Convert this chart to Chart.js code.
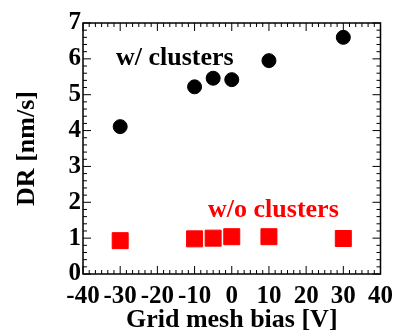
<!DOCTYPE html>
<html><head><meta charset="utf-8">
<script src="https://cdn.jsdelivr.net/npm/chart.js@4/dist/chart.umd.min.js"></script>
<style>html,body{margin:0;padding:0;background:#fff}#wrap{width:401px;height:336px}</style>
</head><body><div id="wrap"><canvas id="c" width="401" height="336"></canvas></div>
<script>
// ---- data ----
const biasWith = [-30, -10, -5, 0, 10, 30];
const drWith = [4.11, 5.22, 5.46, 5.42, 5.95, 6.6];
const biasWithout = [-30, -10, -5, 0, 10, 30];
const drWithout = [0.93, 0.98, 1.0, 1.04, 1.04, 0.99];
const xTicks = [-40, -30, -20, -10, 0, 10, 20, 30, 40];
const yTicks = [0, 1, 2, 3, 4, 5, 6, 7];
const seriesLabels = ['w/ clusters', 'w/o clusters'];
const seriesColors = ['#000000', '#ff0000'];
const xTitle = 'Grid mesh bias [V]';
const yTitle = 'DR [nm/s]';
// in-plot label anchors (data units)
const labelX = [-15.3, 11.2];
const labelY = [6.02, 1.78];

const FONT = "'Liberation Serif', 'Times New Roman', serif";
const tickFont = {family: FONT, size: 25, weight: 'bold'};
const titleFont = {family: FONT, size: 26, weight: 'bold'};

const framePlugin = {
  id: 'frame',
  beforeDatasetsDraw(chart) {
    const {ctx, chartArea: a, scales: {x, y}} = chart;
    ctx.save();
    ctx.strokeStyle = '#000';
    ctx.lineWidth = 1.5;
    ctx.strokeRect(a.left, a.top, a.right - a.left, a.bottom - a.top);
    ctx.lineWidth = 1;
    ctx.beginPath();
    for (let i = 0; i < xTicks.length; i++) {
      const v = xTicks[i];
      const px = x.getPixelForValue(v);
      ctx.moveTo(px, a.bottom); ctx.lineTo(px, a.bottom - 8);
      ctx.moveTo(px, a.top); ctx.lineTo(px, a.top + 8);
      if (i < xTicks.length - 1) {
        const step = (xTicks[i + 1] - v) / 6;
        for (let k = 1; k < 6; k++) {
          const m = x.getPixelForValue(v + k * step);
          ctx.moveTo(m, a.bottom); ctx.lineTo(m, a.bottom - 4);
          ctx.moveTo(m, a.top); ctx.lineTo(m, a.top + 4);
        }
      }
    }
    for (let i = 0; i < yTicks.length; i++) {
      const v = yTicks[i];
      const py = y.getPixelForValue(v);
      ctx.moveTo(a.left, py); ctx.lineTo(a.left + 8, py);
      ctx.moveTo(a.right, py); ctx.lineTo(a.right - 8, py);
      if (i < yTicks.length - 1) {
        const step = (yTicks[i + 1] - v) / 5;
        for (let k = 1; k < 5; k++) {
          const m = y.getPixelForValue(v + k * step);
          ctx.moveTo(a.left, m); ctx.lineTo(a.left + 4, m);
          ctx.moveTo(a.right, m); ctx.lineTo(a.right - 4, m);
        }
      }
    }
    ctx.stroke();
    ctx.restore();
  },
  afterDatasetsDraw(chart) {
    const {ctx, scales: {x, y}} = chart;
    ctx.save();
    ctx.font = 'bold 26px ' + FONT;
    ctx.textAlign = 'center';
    ctx.textBaseline = 'middle';
    for (let i = 0; i < seriesLabels.length; i++) {
      ctx.fillStyle = seriesColors[i];
      ctx.fillText(seriesLabels[i], x.getPixelForValue(labelX[i]), y.getPixelForValue(labelY[i]));
    }
    ctx.restore();
  }
};

new Chart(document.getElementById('c'), {
  type: 'scatter',
  data: {
    datasets: [
      {label: seriesLabels[0], data: biasWith.map((v, i) => ({x: v, y: drWith[i]})),
       pointStyle: 'circle', pointRadius: 7, pointHoverRadius: 7, pointBorderWidth: 1,
       backgroundColor: seriesColors[0], borderColor: seriesColors[0]},
      {label: seriesLabels[1], data: biasWithout.map((v, i) => ({x: v, y: drWithout[i]})),
       pointStyle: 'rect', pointRadius: 11.3, pointHoverRadius: 11.3, pointBorderWidth: 1,
       backgroundColor: seriesColors[1], borderColor: seriesColors[1]}
    ]
  },
  options: {
    responsive: false, animation: false, devicePixelRatio: 1,
    layout: {padding: {left: 0, right: 19, top: 23, bottom: 0}},
    plugins: {legend: {display: false}, tooltip: {enabled: false}},
    scales: {
      x: {
        type: 'linear', min: -40, max: 40,
        afterBuildTicks: s => { s.ticks = xTicks.map(v => ({value: v})); },
        ticks: {font: tickFont, color: '#000', padding: 8, maxRotation: 0, autoSkip: false},
        grid: {display: false, tickLength: 0}, border: {display: false},
        title: {display: true, text: xTitle, font: titleFont, color: '#000', padding: {top: 0, bottom: 0}},
        afterFit: s => { s.height = 62; }
      },
      y: {
        type: 'linear', min: 0, max: 7,
        afterBuildTicks: s => { s.ticks = yTicks.map(v => ({value: v})); },
        ticks: {font: tickFont, color: '#000', padding: 2, autoSkip: false},
        grid: {display: false, tickLength: 0}, border: {display: false},
        title: {display: true, text: yTitle, font: titleFont, color: '#000', padding: {top: 12, bottom: 0}},
        afterFit: s => { s.width = 83; }
      }
    }
  },
  plugins: [framePlugin]
});
</script>
</body></html>
